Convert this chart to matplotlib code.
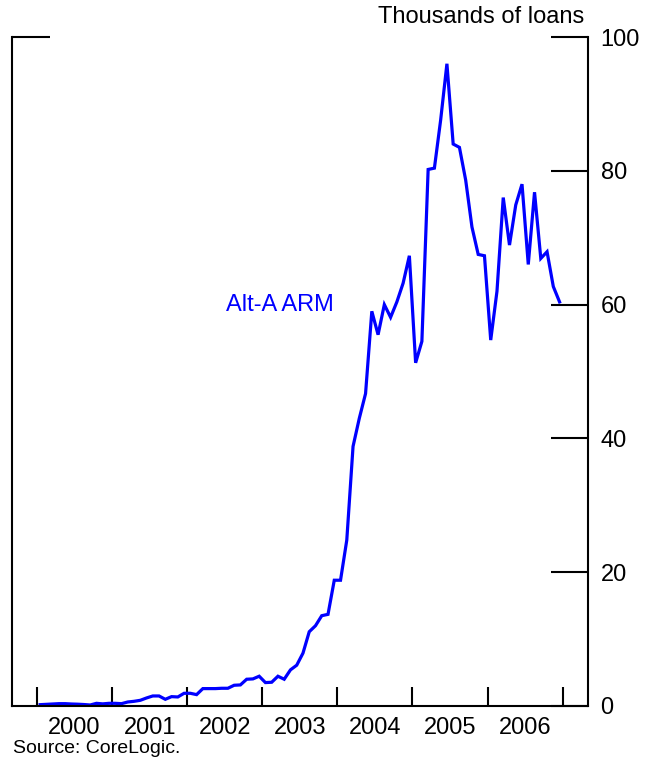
import matplotlib
matplotlib.use("Agg")
import matplotlib.pyplot as plt
import numpy as np

plt.rcParams["font.family"] = ["Liberation Sans", "DejaVu Sans"]

# -------- data: monthly Alt-A ARM originations, Jan 2000 .. Dec 2006 --------
start_year = 2000
alt_a_arm = [
    0.2, 0.25, 0.3, 0.35, 0.35, 0.3, 0.27, 0.22, 0.15, 0.4, 0.32, 0.4,      # 2000
    0.4, 0.35, 0.6, 0.7, 0.85, 1.2, 1.5, 1.5, 1.0, 1.4, 1.35, 1.9,          # 2001
    1.9, 1.7, 2.6, 2.6, 2.6, 2.65, 2.65, 3.1, 3.15, 4.0, 4.05, 4.45,        # 2002
    3.5, 3.55, 4.45, 4.0, 5.4, 6.1, 7.9, 11.1, 12.0, 13.5, 13.7, 18.8,      # 2003
    18.8, 24.8, 38.8, 43.0, 46.7, 59.0, 55.5, 60.0, 58.1, 60.4, 63.2, 67.3, # 2004
    51.3, 54.5, 80.2, 80.4, 87.6, 96.0, 84.0, 83.5, 78.6, 71.6, 67.5, 67.3, # 2005
    54.7, 62.0, 76.0, 68.9, 74.9, 78.0, 66.0, 76.8, 66.9, 67.9, 62.7, 60.4, # 2006
]
year_labels = ["2000", "2001", "2002", "2003", "2004", "2005", "2006"]
series_label = "Alt-A ARM"
y_ticks = [0, 20, 40, 60, 80, 100]

months = np.arange(len(alt_a_arm))
x = start_year + (months + 0.5) / 12.0

fig = plt.figure(figsize=(6.6, 7.59), dpi=100)
ax = fig.add_axes([12 / 660, 53 / 759, 576 / 660, 669 / 759])

ax.plot(x, alt_a_arm, color="#0000FF", lw=2.3, solid_joinstyle="miter")

ax.set_xlim(1999.667, 2007.337)
ax.set_ylim(0, 100)

# spines: left, right, bottom only
ax.spines["top"].set_visible(False)
for s in ("left", "right", "bottom"):
    ax.spines[s].set_linewidth(1.5)

# year boundary ticks (inward), labels centred on mid-year
ax.set_xticks(np.arange(2000, 2008))
ax.set_xticklabels([])
ax.set_xticks(np.arange(2000, 2007) + 0.5, minor=True)
ax.set_xticklabels(year_labels, minor=True, fontsize=17)
ax.tick_params(axis="x", which="major", direction="in", length=14, width=1.5)
ax.tick_params(axis="x", which="minor", length=0, pad=8)

# y ticks on the right, pointing in
ax.yaxis.tick_right()
ax.set_yticks(y_ticks)
ax.set_yticklabels([str(v) for v in y_ticks], fontsize=17)
ax.tick_params(axis="y", which="major", direction="in", length=27, width=1.5,
               pad=9, left=False, right=True)
# short mark at top left (100 level)
ax.plot([0, 38 / 576], [1, 1], transform=ax.transAxes, color="black",
        lw=1.5, clip_on=False, solid_capstyle="butt")

ax.text(2003.955, 59.0, series_label, color="#0000FF", fontsize=17,
        ha="right", va="baseline")

fig.text(584 / 660, (759 - 23) / 759, "Thousands of loans", fontsize=17,
         ha="right", va="baseline")
fig.text(13 / 660, 6 / 759, "Source: CoreLogic.", fontsize=14,
         ha="left", va="baseline")

fig.savefig("out.png", dpi=100)
